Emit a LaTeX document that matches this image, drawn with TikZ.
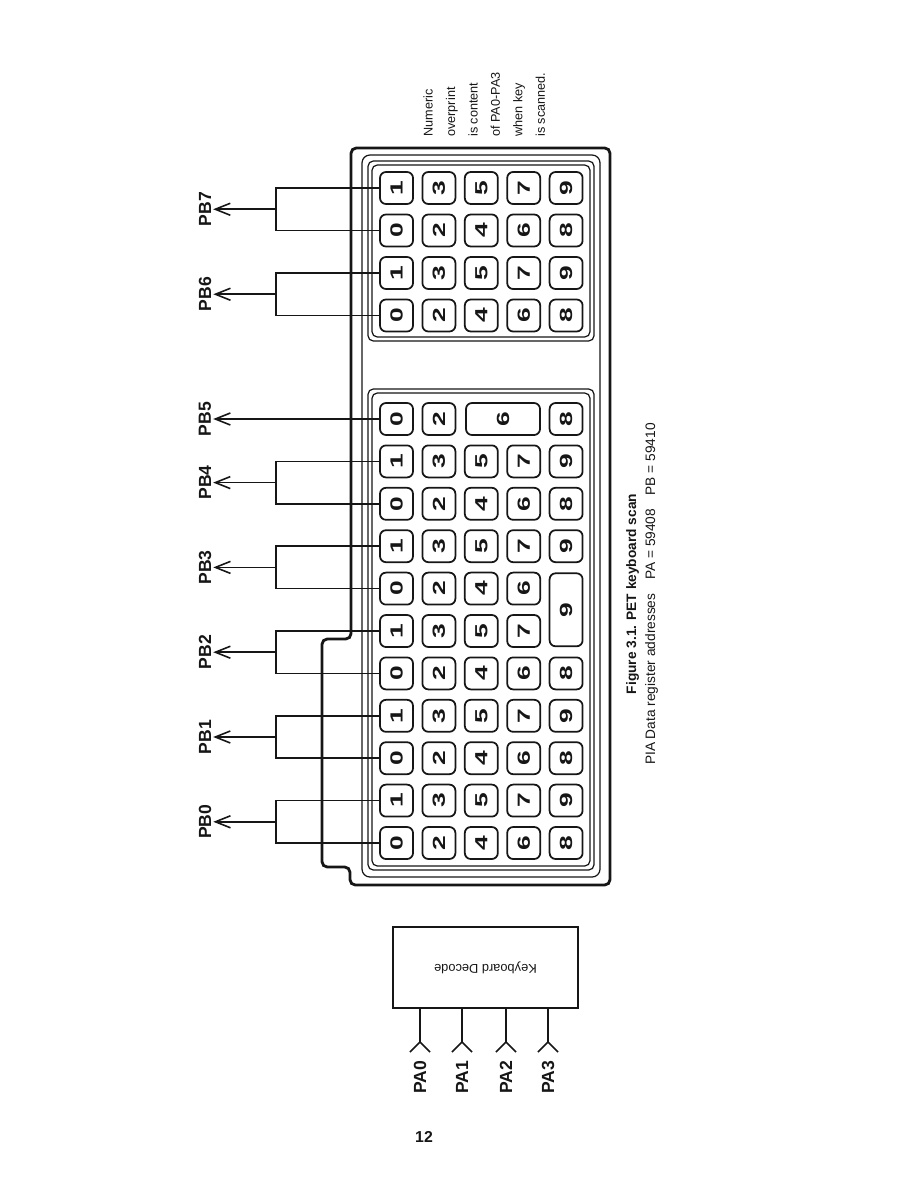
\documentclass[tikz,border=0pt]{standalone}
\usepackage{fontspec}
\setmainfont{Liberation Sans}
\usepackage{graphicx}
\usepackage{tikz}
\usetikzlibrary{arrows.meta, positioning, calc}
\definecolor{ink}{RGB}{22,22,22}
\tikzset{
  keycap/.style={rectangle, draw=ink, text=ink, rounded corners=3.4pt,
    minimum width=0.66cm, minimum height=0.64cm, inner sep=0pt,
    line width=1pt, font=\fontsize{10}{12}\selectfont\bfseries},
  widecap/.style={keycap, minimum width=1.48cm},
  tallcap/.style={keycap, minimum height=1.46cm},
  blockline/.style={draw=ink, line width=0.7pt, rounded corners=3pt},
  caseline/.style={draw=ink, line width=1.6pt, rounded corners=3pt},
  wire/.style={draw=ink, line width=0.9pt},
  pbarrow/.style={wire, -{Straight Barb[length=0.3cm, width=0.24cm]}},
  portlabel/.style={rotate=90, inner sep=1pt, text=ink,
    font=\fontsize{10}{12}\selectfont\bfseries},
  decodebox/.style={rectangle, draw=ink, line width=1.2pt, text=ink,
    minimum width=3.7cm, minimum height=1.62cm,
    font=\fontsize{7.3}{9}\selectfont},
  notetext/.style={rotate=90, inner sep=0pt, align=left, text=ink,
    font=\fontsize{7.2}{12.8}\selectfont},
  captext/.style={rotate=90, inner sep=0pt, align=center, text=ink,
    font=\fontsize{7.8}{10.8}\selectfont}
}
\newcommand{\keydigit}[1]{\rotatebox{90}{\scalebox{1.5}[1]{#1}}}

\begin{document}
\begin{tikzpicture}[x=0.02cm, y=-0.02cm]
  \useasboundingbox (0,0) rectangle (897,1179);

  \draw[caseline] (351,148) -- (610,148) -- (610,885) -- (350,885)
    -- (350,867) -- (322,867) -- (322,639) -- (351,639) -- cycle;
  \draw[blockline, rounded corners=4.5pt] (362,155) rectangle (600,877);
  \draw[blockline] (368,161) rectangle (594,341);
  \draw[blockline] (372,165) rectangle (590,337);
  \draw[blockline] (368,389) rectangle (594,870);
  \draw[blockline] (372,393) rectangle (590,866);

  \foreach \rw/\ky/\p in {1/188/1, 2/230.5/0, 3/273/1, 4/315.5/0} {
    \foreach \c in {1,...,5} {
      \pgfmathtruncatemacro{\dg}{2*(\c-1)+\p}
      \node[keycap] (k\rw-\c) at ({396.5+42.4*(\c-1)}, \ky) {\keydigit{\dg}};
    }
  }

  \node[keycap] (k5-1) at (396.5,419) {\keydigit{0}};
  \node[keycap] (k5-2) at (438.9,419) {\keydigit{2}};
  \node[widecap] (k5-3) at (503,419) {\keydigit{6}};
  \node[keycap] (k5-5) at (566.1,419) {\keydigit{8}};
  \foreach \i in {1,...,10} {
    \pgfmathtruncatemacro{\p}{mod(\i,2)}
    \pgfmathtruncatemacro{\rw}{\i+5}
    \foreach \c in {1,...,5} {
      \pgfmathtruncatemacro{\dg}{2*(\c-1)+\p}
      \pgfmathtruncatemacro{\skipme}{(\c==5)&&((\i==4)||(\i==5))}
      \ifnum\skipme=0
        \node[keycap] (k\rw-\c) at ({396.5+42.4*(\c-1)}, {419+42.4*\i}) {\keydigit{\dg}};
      \fi
    }
  }
  \node[tallcap] (k9-5) at (566.1,609.8) {\keydigit{9}};

  \coordinate (busx) at (276,0);
  \coordinate (labx) at (205,0);
  \foreach \n/\a/\b in {7/1/2, 6/3/4, 4/6/7, 3/8/9, 2/10/11, 1/12/13, 0/14/15} {
    \coordinate (m\n) at ($(k\a-1.west)!0.5!(k\b-1.west)$);
    \coordinate (j\n) at (m\n -| busx);
    \node[portlabel] (pb\n) at (j\n -| labx) {PB\n};
    \draw[wire] (k\a-1.west) -| (j\n) |- (k\b-1.west);
    \draw[pbarrow] (j\n) -- (pb\n);
  }
  \node[portlabel] (pb5) at (k5-1.west -| labx) {PB5};
  \draw[pbarrow] (k5-1.west) -- (pb5);

  \node[decodebox] (dec) at (485.5,967.5) {\rotatebox{180}{Keyboard Decode}};
  \foreach \i/\x in {0/420, 1/462, 2/506, 3/548} {
    \coordinate (pa\i v) at (\x,1042);
    \node[portlabel] (pa\i) at (\x,1077) {PA\i};
    \draw[wire] (dec.south -| pa\i v) -- (pa\i v);
    \draw[wire] (pa\i v) ++(-10,10) -- (pa\i v) -- ++(10,10);
  }

  \node[notetext, anchor=north west] (scannote) at (423,137)
    {Numeric\\overprint\\is content\\of PA0-PA3\\when key\\is scanned.};
  \node[captext] (caption) at (642,594)
    {\textbf{Figure 3.1. PET keyboard scan}\\
     PIA Data register addresses\quad PA = 59408\quad PB = 59410};
  \node[font=\fontsize{9}{11}\selectfont\bfseries, text=ink] (pagenum) at (424,1137) {12};
\end{tikzpicture}
\end{document}
